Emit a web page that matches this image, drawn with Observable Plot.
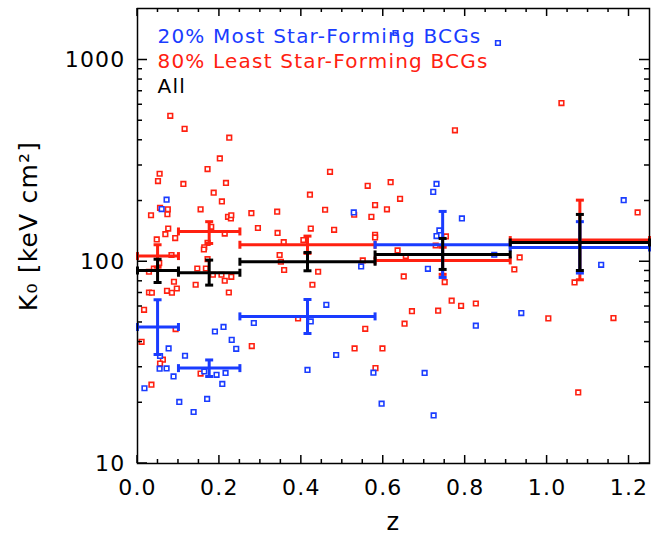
<!DOCTYPE html>
<html><head><meta charset="utf-8">
<script src="https://cdn.jsdelivr.net/npm/d3@7"></script>
<script src="https://cdn.jsdelivr.net/npm/@observablehq/plot@0.6"></script>
<style>body{margin:0;background:#fff}</style>
</head><body><div id="chart"></div>
<script>
// 80% least star-forming BCGs (red)
const redZ = [0.080,0.115,0.224,0.201,0.171,0.054,0.050,0.112,0.216,0.186,0.206,0.470,0.421,0.562,0.618,0.055,0.074,0.073,0.033,0.154,0.221,0.228,0.229,0.278,0.341,0.458,0.580,0.609,0.571,0.529,0.075,0.068,0.092,0.180,0.213,0.294,0.342,0.423,0.480,0.580,0.580,0.047,0.357,0.405,0.171,0.163,0.162,0.083,0.347,0.053,0.040,0.028,0.171,0.146,0.167,0.184,0.205,0.229,0.213,0.350,0.358,0.441,0.550,0.089,0.142,0.427,0.072,0.084,0.096,0.028,0.035,0.223,0.016,0.392,0.556,0.093,0.010,0.279,0.530,0.598,0.062,0.055,0.154,0.581,0.034,1.035,0.775,0.641,1.221,0.753,0.728,0.635,0.655,0.933,0.650,0.920,0.750,1.067,0.767,0.790,0.826,0.670,0.734,1.003,1.162,0.652,1.076];
const redK = [529,456,412,325,288,273,251,243,246,220,199,279,215,238,248,185,182,172,170,182,167,164,170,174,177,181,191,182,167,171,146,137,131,149,138,147,139,146,144,136,132,129,125,128,124,118,115,108,108,98.5,92.6,89.2,103,92.6,92.6,86.2,86.2,84.2,80.5,100,91,89.2,101.5,79.6,76.9,76.9,71.8,70.2,73.7,70.4,70.2,70.4,57.8,52.4,46.5,46.4,40.1,38.2,37.2,37.2,32.7,31.3,27.9,29.7,24.6,612,448,205,175.5,133.5,120.4,113.8,106.7,105,84.6,91.6,79.3,79.0,64.1,60.5,62.1,56.9,57.2,52.4,52.6,49.3,22.5];
// 20% most star-forming BCGs (blue)
const blueZ = [0.071,0.059,0.528,0.546,0.461,0.284,0.423,0.189,0.210,0.230,0.241,0.076,0.116,0.485,0.055,0.054,0.071,0.088,0.163,0.193,0.215,0.415,0.576,0.017,0.207,0.102,0.170,0.137,0.596,0.730,0.722,1.187,0.792,0.737,0.730,0.871,0.709,1.132,0.937,0.826,0.701,0.723,0.880,0.630];
const blueK = [203,182.5,175.5,94.8,61.2,49.7,50.6,45.1,47.5,41.0,37.0,37.2,34.2,34.5,34.1,29.5,29.6,27.0,28.6,27.5,28.1,29.1,28.2,23.6,24.8,20.2,20.9,18.0,19.8,243,222,202,164,143,134,108.3,92.3,96.6,55.7,48.2,28.1,17.3,1214,1361];

// redshift bins
const binLo  = [0, 0.10, 0.25, 0.58, 0.91];
const binHi  = [0.10, 0.25, 0.58, 0.91, 1.25];
const binMid = [0.049, 0.175, 0.415, 0.745, 1.08];
const redMed = [106.7, 141.3, 121.4, 101.5, 128.1];
const redLo  = [94, 123.2, 110, 86.6, 81.4];
const redHi  = [121.4, 158, 134, 118, 202];
const blueMed = [47.5, 29.7, 53.6, 121.4, 117.7];
const blueLo  = [34.7, 27.0, 44.1, 83.6, 87.9];
const blueHi  = [64.8, 32.6, 65.0, 177.6, 158];
const allMed = [90.5, 88.2, 100, 108.7, 124.6];
const allLo  = [78.9, 76.6, 90.2, 91.6, 90.5];
const allHi  = [102.9, 101.9, 111.2, 130.5, 171.6];

const xDomain = [0, 1.25];
const yDomain = [10, 1800];
const xMajor = [0, 0.2, 0.4, 0.6, 0.8, 1.0, 1.2];
const xMinor = [0.05,0.1,0.15,0.25,0.3,0.35,0.45,0.5,0.55,0.65,0.7,0.75,0.85,0.9,0.95,1.05,1.1,1.15];
const yMajor = [10, 100, 1000];
const yMinor = [20,30,40,50,60,70,80,90,200,300,400,500,600,700,800,900];

const legendLabels = ["20% Most Star-Forming BCGs", "80% Least Star-Forming BCGs", "All"];
const BLUE = "#1a3cff", RED = "#ff2010", BLACK = "#000000";
const legendColors = [BLUE, RED, BLACK];

const W = 652, H = 535, ML = 137, MR = 3, MT = 8, MB = 72;

const hcap = {draw(ctx, size){const w = Math.sqrt(size/Math.PI); ctx.moveTo(-w,0); ctx.lineTo(w,0);}};
const vcap = {draw(ctx, size){const w = Math.sqrt(size/Math.PI); ctx.moveTo(0,-w); ctx.lineTo(0,w);}};

function binMarks(med, lo, hi, color) {
  const rows = binLo.map((l, i) => ({lo: l, hi: binHi[i], mid: binMid[i], k: med[i], klo: lo[i], khi: hi[i]}));
  const s = {stroke: color, strokeWidth: 3, fill: "none"};
  return [
    Plot.ruleY(rows, {y: "k", x1: "lo", x2: "hi", ...s}),
    Plot.dot(rows, {x: "lo", y: "k", symbol: vcap, r: 4, ...s}),
    Plot.dot(rows, {x: "hi", y: "k", symbol: vcap, r: 4, ...s}),
    Plot.ruleX(rows, {x: "mid", y1: "klo", y2: "khi", ...s}),
    Plot.dot(rows, {x: "mid", y: "klo", symbol: hcap, r: 4, ...s}),
    Plot.dot(rows, {x: "mid", y: "khi", symbol: hcap, r: 4, ...s})
  ];
}

const red = redZ.map((z, i) => ({z, k: redK[i]}));
const blue = blueZ.map((z, i) => ({z, k: blueK[i]}));

const chart = Plot.plot({
  width: W, height: H,
  marginLeft: ML, marginRight: MR, marginTop: MT, marginBottom: MB,
  style: {fontFamily: "DejaVu Sans", fontSize: "22px", color: "black", background: "white", letterSpacing: "1.2px"},
  x: {domain: xDomain},
  y: {type: "log", domain: yDomain},
  marks: [
    Plot.dot(red, {x: "z", y: "k", symbol: "square", r: 2.6, stroke: RED, strokeWidth: 1.6, fill: "white"}),
    Plot.dot(blue, {x: "z", y: "k", symbol: "square", r: 2.6, stroke: BLUE, strokeWidth: 1.6, fill: "white"}),
    ...binMarks(redMed, redLo, redHi, RED),
    ...binMarks(blueMed, blueLo, blueHi, BLUE),
    ...binMarks(allMed, allLo, allHi, BLACK),
    Plot.axisX({anchor: "bottom", ticks: xMajor, tickSize: 0, tickPadding: 16, tickFormat: d => d.toFixed(1), fontSize: 22, label: null}),
    Plot.axisY({anchor: "left", ticks: yMajor, tickSize: 0, tickPadding: 12, tickFormat: d => String(d), fontSize: 22, label: null}),
    Plot.frame({stroke: "black", strokeWidth: 1.5}),
    Plot.text(["z"], {text: d => d, frameAnchor: "bottom", lineAnchor: "middle", dy: 59, fontSize: 24}),
    Plot.text(["K₀ [keV cm²]"], {text: d => d, frameAnchor: "left", textAnchor: "middle", lineAnchor: "middle", dx: -109, dy: -10, rotate: -90, fontSize: 25}),
    ...legendLabels.map((t, i) => Plot.text([t], {text: d => d, frameAnchor: "top-left", textAnchor: "start", lineAnchor: "middle", dx: 20, dy: 28 + 25 * i, fill: legendColors[i], fontSize: 20}))
  ]
});
document.getElementById("chart").appendChild(chart);

// inward minor/major ticks on all four sides, positioned through Plot's own scales
(function addTicks() {
  const xs = chart.scale("x"), ys = chart.scale("y");
  const px = v => xs.apply ? xs.apply(v) : xs.range[0] + (v - xs.domain[0]) / (xs.domain[1] - xs.domain[0]) * (xs.range[1] - xs.range[0]);
  const py = v => ys.apply ? ys.apply(v) : ys.range[0] + Math.log(v / ys.domain[0]) / Math.log(ys.domain[1] / ys.domain[0]) * (ys.range[1] - ys.range[0]);
  const bottom = py(yDomain[0]), top = py(yDomain[1]), left = px(xDomain[0]), right = px(xDomain[1]);
  const svg = d3.select(chart.tagName.toLowerCase() === "svg" ? chart : chart.querySelector("svg"));
  const g = svg.append("g").attr("stroke", "black").attr("stroke-width", 1.5).attr("fill", "none");
  const xt = [...xMajor.map(v => [v, 8]), ...xMinor.map(v => [v, 4])];
  const yt = [...yMajor.map(v => [v, 10]), ...yMinor.map(v => [v, 5])];
  for (const [v, L] of xt) {
    const x = px(v);
    g.append("line").attr("x1", x).attr("x2", x).attr("y1", bottom).attr("y2", bottom - L);
    g.append("line").attr("x1", x).attr("x2", x).attr("y1", top).attr("y2", top + L);
  }
  for (const [v, L] of yt) {
    const y = py(v);
    g.append("line").attr("y1", y).attr("y2", y).attr("x1", left).attr("x2", left + L);
    g.append("line").attr("y1", y).attr("y2", y).attr("x1", right).attr("x2", right - L);
  }
})();
</script>
</body></html>
